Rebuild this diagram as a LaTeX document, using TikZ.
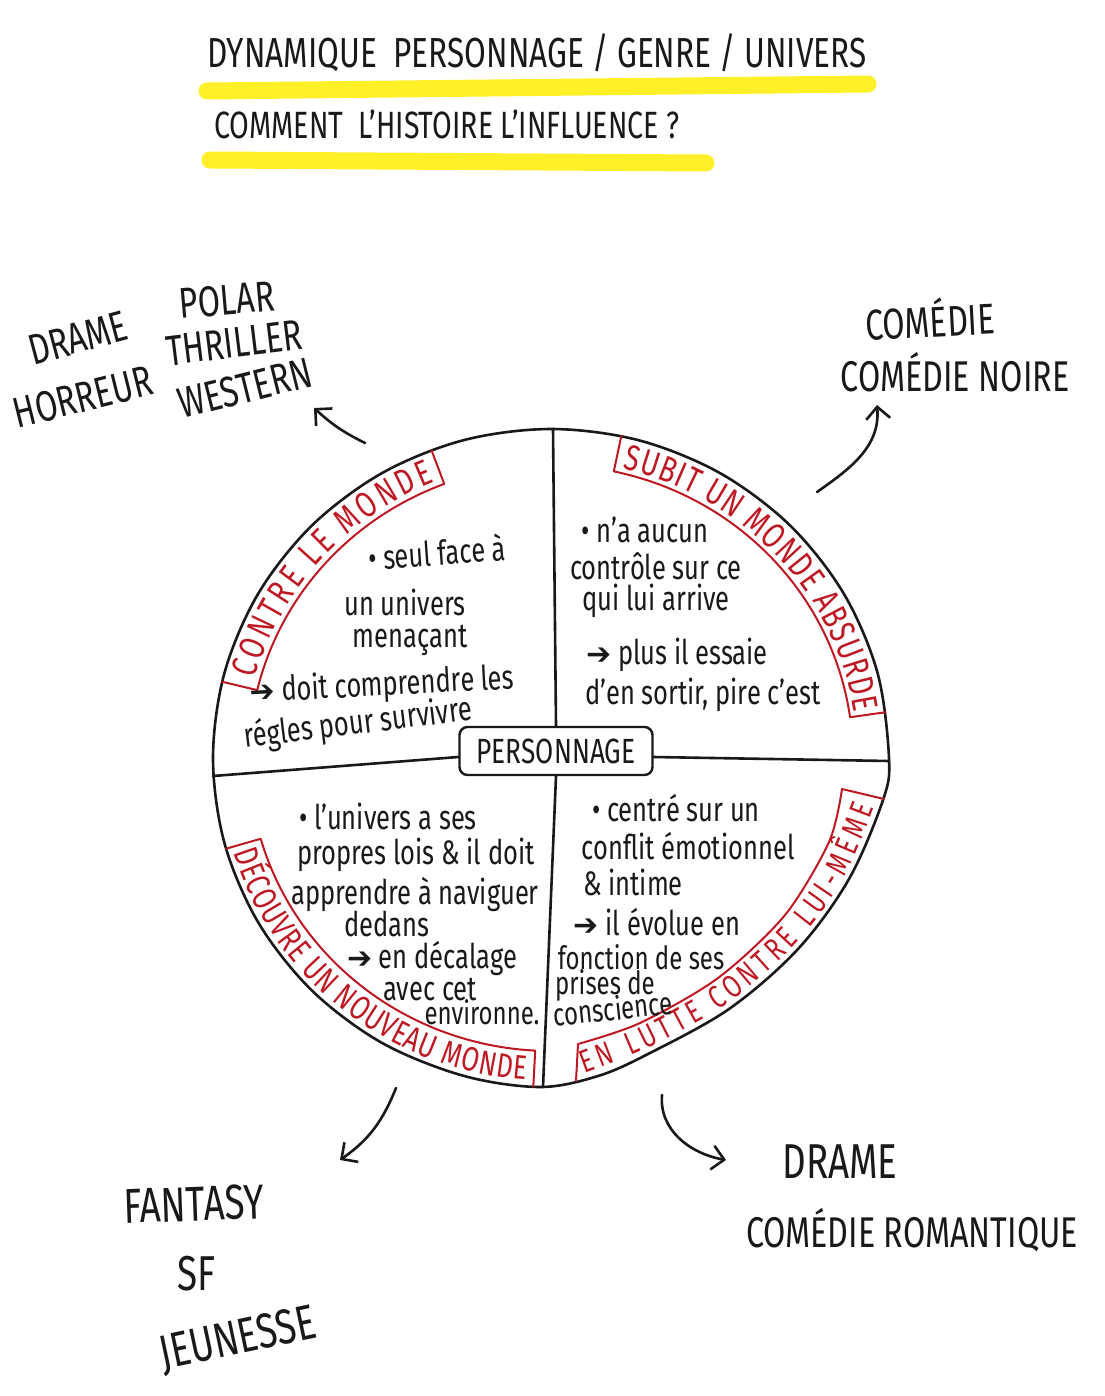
\documentclass[tikz,border=0pt]{standalone}
\usepackage{fontspec}
\setmainfont{Fira Sans}
\newfontfamily\hand[FakeStretch=0.75]{Fira Sans}
\newfontfamily\sym{DejaVu Sans}
\usetikzlibrary{arrows.meta,decorations.text}
\definecolor{ink}{RGB}{25,25,25}
\definecolor{penred}{RGB}{190,25,35}
\definecolor{hilite}{RGB}{255,240,40}
\tikzset{
  inkline/.style={draw=ink, line width=2.6pt, line cap=round, line join=round},
  bandline/.style={draw=penred, line width=2pt, line cap=round, line join=round},
  genre/.style={font=\hand\fontsize{43}{45}\selectfont, text=ink, inner sep=0pt},
  biggenre/.style={font=\hand\fontsize{49}{51}\selectfont, text=ink, inner sep=0pt},
  note/.style={font=\hand\fontsize{34}{36}\selectfont, text=ink, inner sep=0pt},
  smallnote/.style={font=\hand\fontsize{32}{34}\selectfont, text=ink, inner sep=0pt},
  titletext/.style={font=\hand\fontsize{42}{44}\selectfont, text=ink, inner sep=0pt},
  marker/.style={draw=hilite, line width=17pt, line cap=round},
  genrearrow/.style={inkline, -{Straight Barb[length=12pt,width=24pt]}},
}
\newcommand{\harrow}{{\sym\fontsize{30}{30}\selectfont ➔}}
\begin{document}
\begin{tikzpicture}[x=1pt,y=1pt]
\useasboundingbox (0,0) rectangle (1104,-1396);
\fill[white] (0,0) rectangle (1104,-1396);

% ---------- title ----------
\draw[marker] (207,-91) -- (868,-84);
\draw[marker] (210,-160) -- (706,-163);
\node[titletext] (title1) at (537,-53) {DYNAMIQUE\ \ PERSONNAGE / GENRE / UNIVERS};
\node[titletext, font=\hand\fontsize{38}{40}\selectfont] (title2) at (447,-124) {COMMENT\ \ L’HISTOIRE L’INFLUENCE ?};

% ---------- circle ----------
\coordinate (C) at (551,-758);
\draw[inkline] plot[smooth cycle, tension=0.55] coordinates {
 (889,-758) (877.5,-672.8) (843.7,-593.5) (790,-525.4) (720,-473.1) (638.5,-440.2)
 (551,-429) (463.5,-440.2) (382,-473.1) (312,-525.4) (258.3,-593.5) (224.5,-672.8)
 (213,-758) (224.5,-843.2) (258.3,-922.5) (312,-990.6) (382,-1042.9) (463.5,-1075.8)
 (540,-1087) (598,-1076) (648,-1054) (729,-1009) (798,-949) (849,-879) (883,-800)};

% ---------- centre box and quadrant lines ----------
\node[draw=ink, line width=2.4pt, rounded corners=8pt, minimum width=193pt, minimum height=48pt,
      inner sep=0pt, text=ink, font=\hand\fontsize{35}{35}\selectfont] (pers) at (556,-751) {PERSONNAGE};
\coordinate (vtop) at (553,-429);
\coordinate (vbot) at (543,-1087);
\coordinate (hleft) at (213,-776);
\coordinate (hright) at (889,-761);
\draw[inkline] (vtop) -- (pers.north);
\draw[inkline] (pers.south) -- (vbot);
\draw[inkline] (hleft) -- ([yshift=-6pt]pers.west);
\draw[inkline] ([yshift=-6pt]pers.east) -- (hright);

% ---------- red bands ----------
% top left
\draw[bandline] ([shift={(166.6:338 and 329)}]C) -- ([shift={(166.6:302 and 293)}]C)
   arc[start angle=166.6, end angle=110.7, x radius=302, y radius=293] -- ([shift={(110.7:338 and 329)}]C);
\path[decorate, decoration={text along path, raise=5pt, text color=penred,
   text align={left indent=10pt, right indent=8pt, fit to path},
   text={|\hand\fontsize{36}{36}\selectfont|CONTRE LE MONDE}}]
   ([shift={(166.6:302 and 293)}]C) arc[start angle=166.6, end angle=110.7, x radius=302, y radius=293];
% top right
\draw[bandline] ([shift={(78:338 and 329)}]C) -- ([shift={(78:302 and 293)}]C)
   arc[start angle=78, end angle=8, x radius=302, y radius=293] -- ([shift={(8:338 and 329)}]C);
\path[decorate, decoration={text along path, raise=5pt, text color=penred,
   text align={left indent=8pt, right indent=4pt, fit to path},
   text={|\hand\fontsize{36}{36}\selectfont|SUBIT UN MONDE ABSURDE}}]
   ([shift={(78:302 and 293)}]C) arc[start angle=78, end angle=8, x radius=302, y radius=293];
% bottom left
\draw[bandline] ([shift={(196:338 and 329)}]C) -- ([shift={(196:302 and 293)}]C)
   arc[start angle=196, end angle=267, x radius=302, y radius=293] -- ([shift={(267:338 and 329)}]C);
\path[decorate, decoration={text along path, text color=penred,
   text align={left indent=6pt, right indent=8pt, fit to path},
   text={|\hand\fontsize{34}{34}\selectfont|DÉCOUVRE UN NOUVEAU MONDE}}]
   ([shift={(196:332 and 323)}]C) arc[start angle=196, end angle=267, x radius=332, y radius=323];
% bottom right
\draw[bandline] (576,-1081) -- plot[smooth] coordinates {(578,-1044) (640,-1023) (718,-978) (785,-915) (829,-842) (842,-789)} -- (884,-799);
\path[decorate, decoration={text along path, text color=penred,
   text align={left indent=8pt, right indent=10pt, fit to path},
   text={|\hand\fontsize{32}{32}\selectfont|EN LUTTE CONTRE LUI-MÊME}}]
   plot[smooth] coordinates {(577,-1076) (646,-1049) (726,-1005) (794,-946) (845,-877) (878,-798)};

% ---------- quadrant notes ----------
\node[note, rotate=4] (tl1) at (437,-552) {• seul face à};
\node[note] (tl2) at (405,-602) {un univers};
\node[note] (tl3) at (410,-640) {menaçant};
\node[note, rotate=3] (tl4) at (382,-686) {\harrow\ doit comprendre les};
\node[note, rotate=7] (tl5) at (358,-724) {régles pour survivre};

\node[note] (tr1) at (645,-530) {• n’a aucun};
\node[note] (tr2) at (656,-566) {contrôle sur ce};
\node[note] (tr3) at (656,-601) {qui lui arrive};
\node[note] (tr4) at (677,-655) {\harrow\ plus il essaie};
\node[note] (tr5) at (703,-695) {d’en sortir, pire c’est};

\node[note] (bl1) at (388,-816) {• l’univers a ses};
\node[note] (bl2) at (416,-855) {propres lois \& il doit};
\node[note] (bl3) at (415,-894) {apprendre à naviguer};
\node[note] (bl4) at (387,-924) {dedans};
\node[note] (bl5) at (432,-958) {\harrow\ en décalage};
\node[note] (bl6) at (430,-990) {avec cet};
\node[smallnote] (bl7) at (482,-1012) {environne.};

\node[note] (br1) at (676,-808) {• centré sur un};
\node[note] (br2) at (688,-846) {conflit émotionnel};
\node[note] (br3) at (633,-882) {\& intime};
\node[note] (br4) at (657,-922) {\harrow\ il évolue en};
\node[smallnote] (br5) at (641,-957) {fonction de ses};
\node[smallnote] (br6) at (605,-985) {prises de};
\node[smallnote, rotate=6] (br7) at (613,-1008) {conscience};

% ---------- genres ----------
\node[genre, rotate=15] (gDrame) at (78,-338) {DRAME};
\node[genre, rotate=5] (gPolar) at (227,-300) {POLAR};
\node[genre, rotate=7] (gThriller) at (234,-343) {THRILLER};
\node[genre, rotate=14] (gHorreur) at (83,-397) {HORREUR};
\node[genre, rotate=14] (gWestern) at (245,-388) {WESTERN};

\node[genre, rotate=3] (gComedie) at (930,-318) {COMÉDIE};
\node[genre] (gNoire) at (955,-372) {COMÉDIE NOIRE};

\node[biggenre, rotate=2] (gFantasy) at (194,-1204) {FANTASY};
\node[biggenre] (gSF) at (197,-1274) {SF};
\node[biggenre, rotate=12] (gJeunesse) at (238,-1340) {JEUNESSE};

\node[biggenre] (gDrame2) at (840,-1162) {DRAME};
\node[genre] (gRomantique) at (912,-1230) {COMÉDIE ROMANTIQUE};

% ---------- arrows ----------
\coordinate (aTLs) at (365,-443);
\coordinate (aTLe) at (314,-408);
\coordinate (aTRs) at (817,-492);
\coordinate (aTRe) at (877,-405);
\coordinate (aBLs) at (396,-1088);
\coordinate (aBLe) at (340,-1160);
\coordinate (aBRs) at (662,-1095);
\coordinate (aBRe) at (726,-1160);
\draw[genrearrow] (aTLs) to[bend left=8] (aTLe);
\draw[genrearrow] (aTRs) to[out=35, in=-85] (aTRe);
\draw[genrearrow] (aBLs) to[out=-112, in=35] (aBLe);
\draw[genrearrow] (aBRs) to[out=-95, in=170] (aBRe);
\end{tikzpicture}
\end{document}
